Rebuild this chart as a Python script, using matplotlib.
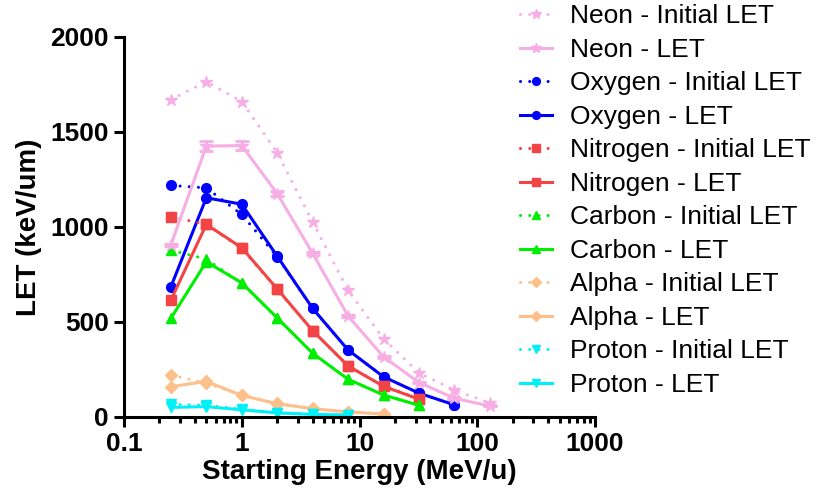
import matplotlib
matplotlib.use('Agg')
import matplotlib.pyplot as plt

plt.rcParams['font.family'] = ['Liberation Sans', 'DejaVu Sans']

# Starting energies (MeV/u)
energy = [0.25, 0.5, 1, 2, 4, 8, 16, 32, 64, 128]

# LET values (keV/um) per ion, initial and measured
neon_init = [1670, 1765, 1660, 1390, 1025, 665, 410, 230, 140, 72]
neon_let = [905, 1425, 1428, 1175, 860, 530, 315, 180, 97, 56]
neon_err = [5, 25, 25, 12, 8, 5, 4, 3, 2, 2]
oxy_init = [1218, 1205, 1065, 842, 570, 351, 210, 123, 62]
oxy_let = [684, 1153, 1119, 845, 570, 351, 210, 124, 62]
nit_init = [1053, 1013, 886, 671, 453, 267, 162, 95]
nit_let = [614, 1013, 890, 673, 453, 267, 160, 92]
car_init = [877, 830, 702, 518, 334, 197, 114, 62]
car_let = [518, 816, 705, 520, 334, 197, 114, 60]
alp_init = [219, 176, 114, 70, 44, 26, 14]
alp_let = [158, 186, 112, 68, 42, 25, 14]
pro_init = [65, 60, 39, 21, 13, 9]
pro_let = [49, 53, 36, 20, 12, 9]

ions = [
    ('Neon', neon_init, neon_let, '*', '#F6AEE4', 9),
    ('Oxygen', oxy_init, oxy_let, 'o', '#0000FF', 7),
    ('Nitrogen', nit_init, nit_let, 's', '#F24444', 7),
    ('Carbon', car_init, car_let, '^', '#00EE00', 7),
    ('Alpha', alp_init, alp_let, 'D', '#FDC08A', 6),
    ('Proton', pro_init, pro_let, 'v', '#00F0F8', 7),
]

fig = plt.figure(figsize=(8.17, 4.93), dpi=100)
ax = fig.add_axes([0.1518, 0.1548, 0.5765, 0.7702])

handles = []
for name, init, let, mk, col, ms in ions:
    x = energy[:len(init)]
    h1, = ax.plot(x, init, color=col, marker=mk, markersize=ms, lw=2.2,
                  linestyle=(0, (0.01, 3)), dash_capstyle='round',
                  label=name + ' - Initial LET')
    if name == 'Neon':
        eb = ax.errorbar(x, let, yerr=neon_err, color=col, marker=mk, markersize=ms,
                         lw=2.2, capsize=5, elinewidth=2, capthick=2)
        h2 = eb[0]
        h2.set_label(name + ' - LET')
    else:
        h2, = ax.plot(x, let, color=col, marker=mk, markersize=ms, lw=2.2,
                      label=name + ' - LET')
    handles += [h1, h2]

ax.set_xscale('log')
ax.set_xlim(0.1, 1000)
ax.set_ylim(0, 2000)
ax.set_yticks([0, 500, 1000, 1500, 2000])
ax.set_xticks([0.1, 1, 10, 100, 1000])
ax.set_xticklabels(['0.1', '1', '10', '100', '1000'])

for s in ['top', 'right']:
    ax.spines[s].set_visible(False)
for s in ['left', 'bottom']:
    ax.spines[s].set_linewidth(2.2)
ax.tick_params(which='major', width=2.2, length=7, labelsize=19, pad=4)
ax.tick_params(which='minor', width=2.2, length=4)
ax.tick_params(axis='y', which='minor', left=False)
for lab in ax.get_xticklabels() + ax.get_yticklabels():
    lab.set_fontweight('bold')

ax.set_xlabel('Starting Energy (MeV/u)', fontsize=20, fontweight='bold', labelpad=2)
ax.set_ylabel('LET (keV/um)', fontsize=20, fontweight='bold', labelpad=6)

labels = [h.get_label() for h in handles]
ax.legend(handles, labels, loc='upper left', bbox_to_anchor=(0.6365, 0.991),
          bbox_transform=fig.transFigure, frameon=False, borderpad=0, borderaxespad=0,
          fontsize=19, handlelength=1.2, handletextpad=0.7, labelspacing=0.36,
          markerscale=0.8)

plt.savefig('out.png', dpi=100)
